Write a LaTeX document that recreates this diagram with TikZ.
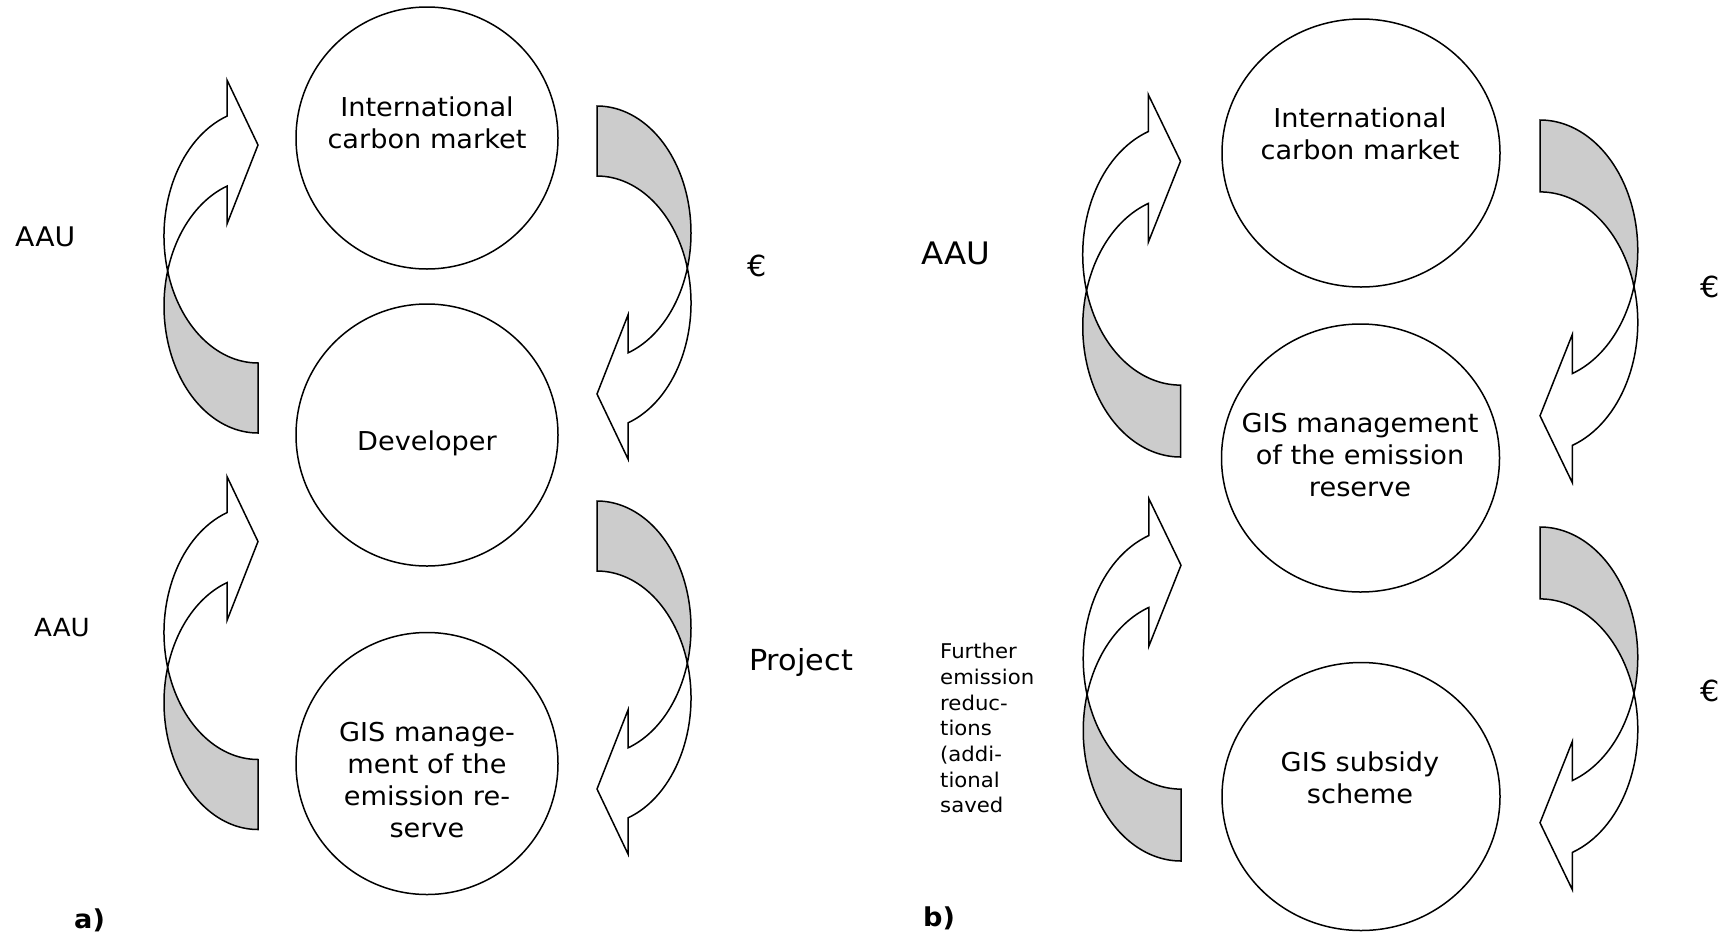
\documentclass[tikz,border=0pt]{standalone}
\usepackage{fontspec}
\setmainfont{DejaVu Sans}[FakeStretch=1.045]
\usetikzlibrary{shapes.geometric}
\definecolor{shade}{RGB}{204,204,204}
\newcommand\ribbonarrow{%
  \filldraw[ribbon, fill=shade] (0,0)
     arc[start angle=270, end angle=164, x radius=94, y radius=127]
     arc[start angle=196, end angle=270, x radius=94, y radius=127] -- cycle;
  \filldraw[ribbon, fill=white] ({-94*cos(16)},162)
     arc[start angle=196, end angle=109.255, x radius=94, y radius=127]
     -- (-31,353) -- (0,288) -- (-31,209) -- (-31,{127+127*sin(109.255)})
     arc[start angle=109.255, end angle=164, x radius=94, y radius=127] -- cycle;
}
\tikzset{
  ribbon/.style={draw=black, line width=1.5pt, line join=miter},
  circa/.style={circle, draw=black, line width=1.5pt, minimum size=262pt, inner sep=0pt},
  circb/.style={ellipse, draw=black, line width=1.5pt, minimum width=278pt, minimum height=268pt, inner sep=0pt},
  ctext/.style={font=\fontsize{26}{32}\selectfont, align=center, inner sep=0pt},
  lbl/.style={inner sep=0pt, anchor=base west},
  small/.style={font=\fontsize{20.3}{25.7}\selectfont, align=left, inner sep=0pt, anchor=north west}
}
\begin{document}
\begin{tikzpicture}[x=1pt, y=1pt]
\useasboundingbox[fill=white] (0,0) rectangle (1727,-935);

% ---------- panel a ----------
\node[circa] (a1) at (427,-138) {};
\node[circa] (a2) at (427,-435) {};
\node[circa] (a3) at (427,-763.5) {};
\node[ctext] (a1t) at (427,-123) {International\\carbon market};
\node[ctext] (a2t) at (427,-443.5) {Developer};
\node[ctext] (a3t) at (427,-780.4) {GIS manage-\\ment of the\\emission re-\\serve};

\begin{scope}[shift={(258,-433)}] \ribbonarrow \end{scope}
\begin{scope}[shift={(258,-829.5)}] \ribbonarrow \end{scope}
\begin{scope}[shift={(597,-106)}, rotate=180] \ribbonarrow \end{scope}
\begin{scope}[shift={(597,-501)}, rotate=180] \ribbonarrow \end{scope}

\node[lbl, font=\fontsize{27}{32}\selectfont] (aauA) at (15,-246.7) {AAU};
\node[lbl, font=\fontsize{25}{32}\selectfont] (aauB) at (34,-636.6) {AAU};
\node[lbl, font=\fontsize{29}{32}\selectfont] (euroA) at (747,-276) {€};
\node[lbl, font=\fontsize{29}{32}\selectfont] (proj) at (749,-670) {Project};
\node[lbl, font=\fontsize{26}{32}\selectfont\bfseries] (la) at (74,-928) {a)};

% ---------- panel b ----------
\node[circb] (b1) at (1361,-153) {};
\node[circb] (b2) at (1360.5,-458) {};
\node[circb] (b3) at (1361,-796.5) {};
\node[ctext] (b1t) at (1360,-134.1) {International\\carbon market};
\node[ctext] (b2t) at (1360,-455.5) {GIS management\\of the emission\\reserve};
\node[ctext] (b3t) at (1360,-777.6) {GIS subsidy\\scheme};

\begin{scope}[shift={(1180.5,-457)}, xscale=1.04, yscale=1.027] \ribbonarrow \end{scope}
\begin{scope}[shift={(1181,-861)}, xscale=1.04, yscale=1.027] \ribbonarrow \end{scope}
\begin{scope}[shift={(1540,-120)}, rotate=180, xscale=1.04, yscale=1.027] \ribbonarrow \end{scope}
\begin{scope}[shift={(1540,-527)}, rotate=180, xscale=1.04, yscale=1.027] \ribbonarrow \end{scope}

\node[lbl, font=\fontsize{31}{32}\selectfont] (aauC) at (921,-264.3) {AAU};
\node[lbl, font=\fontsize{29}{32}\selectfont] (euroB) at (1700,-297) {€};
\node[lbl, font=\fontsize{29}{32}\selectfont] (euroC) at (1700,-701.6) {€};
\node[lbl, font=\fontsize{26}{32}\selectfont\bfseries] (lb) at (923,-926) {b)};
\node[small] (further) at (940,-643) {Further\\emission\\reduc-\\tions\\(addi-\\tional\\saved};
\end{tikzpicture}
\end{document}
